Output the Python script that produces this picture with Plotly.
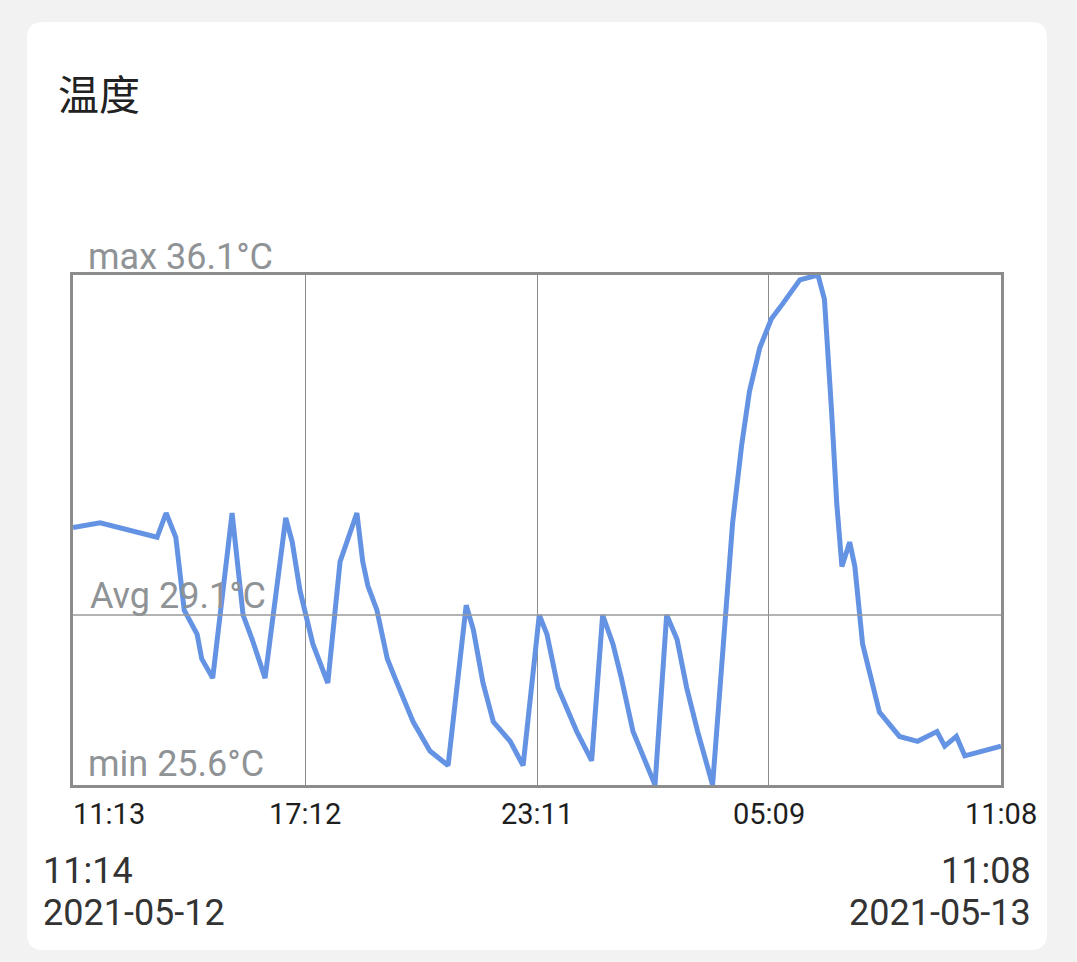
import plotly.graph_objects as go

title_text = "温度"
times = ["2021-05-12 11:13","2021-05-12 11:55","2021-05-12 13:23","2021-05-12 13:37","2021-05-12 13:52",
         "2021-05-12 14:05","2021-05-12 14:25","2021-05-12 14:32","2021-05-12 14:49","2021-05-12 15:19",
         "2021-05-12 15:36","2021-05-12 15:50","2021-05-12 16:10","2021-05-12 16:42","2021-05-12 16:52",
         "2021-05-12 17:04","2021-05-12 17:24","2021-05-12 17:47","2021-05-12 18:06","2021-05-12 18:17",
         "2021-05-12 18:32","2021-05-12 18:41","2021-05-12 18:49","2021-05-12 19:03","2021-05-12 19:19",
         "2021-05-12 19:31","2021-05-12 19:59","2021-05-12 20:25","2021-05-12 20:53","2021-05-12 21:21",
         "2021-05-12 21:32","2021-05-12 21:47","2021-05-12 22:03","2021-05-12 22:29","2021-05-12 22:49",
         "2021-05-12 23:14","2021-05-12 23:26","2021-05-12 23:43","2021-05-13 00:12","2021-05-13 00:35",
         "2021-05-13 00:52","2021-05-13 01:08","2021-05-13 01:21","2021-05-13 01:39","2021-05-13 02:13",
         "2021-05-13 02:31","2021-05-13 02:47","2021-05-13 03:02","2021-05-13 03:19","2021-05-13 03:42",
         "2021-05-13 04:01","2021-05-13 04:13","2021-05-13 04:27","2021-05-13 04:39","2021-05-13 04:55",
         "2021-05-13 05:13","2021-05-13 05:30","2021-05-13 05:57","2021-05-13 06:25","2021-05-13 06:35",
         "2021-05-13 06:46","2021-05-13 06:54","2021-05-13 07:02","2021-05-13 07:14","2021-05-13 07:22",
         "2021-05-13 07:34","2021-05-13 08:00","2021-05-13 08:31","2021-05-13 08:59","2021-05-13 09:29",
         "2021-05-13 09:41","2021-05-13 09:59","2021-05-13 10:12","2021-05-13 11:08"]
temps = [30.9, 31.0, 30.7, 31.2, 30.7,
         29.2, 28.7, 28.2, 27.8, 31.2,
         29.1, 28.6, 27.8, 31.1, 30.6,
         29.6, 28.5, 27.7, 30.2, 30.6,
         31.2, 30.2, 29.7, 29.2, 28.2,
         27.8, 26.9, 26.3, 26.0, 29.3,
         28.8, 27.7, 26.9, 26.5, 26.0,
         29.1, 28.7, 27.6, 26.7, 26.1,
         29.1, 28.5, 27.8, 26.7, 25.6,
         29.1, 28.6, 27.6, 26.7, 25.6,
         29.1, 31.0, 32.6, 33.7, 34.6,
         35.2, 35.5, 36.0, 36.1, 35.6,
         33.3, 31.4, 30.1, 30.6, 30.1,
         28.5, 27.1, 26.6, 26.5, 26.7,
         26.4, 26.6, 26.2, 26.4]
tick_times = ["2021-05-12 11:13", "2021-05-12 17:12", "2021-05-12 23:11", "2021-05-13 05:09", "2021-05-13 11:08"]
tick_labels = ["11:13", "17:12", "23:11", "05:09", "11:08"]
t_max, t_avg, t_min = 36.1, 29.1, 25.6
start_time, start_date = "11:14", "2021-05-12"
end_time, end_date = "11:08", "2021-05-13"

W, H = 1077, 962
L, R, T, B = 73, 1001, 275, 785


def px(x):
    return (x - L) / (R - L)


def py(y):
    return (B - y) / (B - T)


def rounded_rect(x0, y0, x1, y1, r):
    rx = r / (R - L)
    ry = r / (B - T)
    X0, X1 = px(x0), px(x1)
    Y0, Y1 = py(y1), py(y0)
    return (f"M {X0+rx},{Y0} L {X1-rx},{Y0} Q {X1},{Y0} {X1},{Y0+ry} "
            f"L {X1},{Y1-ry} Q {X1},{Y1} {X1-rx},{Y1} "
            f"L {X0+rx},{Y1} Q {X0},{Y1} {X0},{Y1-ry} "
            f"L {X0},{Y0+ry} Q {X0},{Y0} {X0+rx},{Y0} Z")


fig = go.Figure()
fig.add_trace(go.Scatter(x=times, y=temps, mode="lines",
                         line=dict(color="#6593e4", width=5), hoverinfo="skip"))

shapes = [
    dict(type="path", xref="paper", yref="paper", layer="below",
         path=rounded_rect(27, 22, 1047, 950, 16), fillcolor="white", line=dict(width=0)),
    dict(type="line", xref="paper", yref="y", x0=0, x1=1, y0=t_avg, y1=t_avg,
         line=dict(color="#9a9a9a", width=1.5)),
]

grey = "#8f9396"
lab_font = dict(family="Roboto", size=36, color=grey)
annotations = [
    dict(text=title_text, xref="paper", yref="paper", x=px(56), y=py(92),
         xanchor="left", yanchor="middle", showarrow=False,
         font=dict(family="Noto Sans CJK SC", size=41, color="#222222")),
    dict(text=f"max {t_max}°C", xref="paper", yref="paper", x=px(86), y=py(257),
         xanchor="left", yanchor="middle", showarrow=False, font=lab_font),
    dict(text=f"Avg {t_avg}°C", xref="paper", yref="paper", x=px(88), y=py(596),
         xanchor="left", yanchor="middle", showarrow=False, font=lab_font),
    dict(text=f"min {t_min}°C", xref="paper", yref="paper", x=px(86), y=py(764),
         xanchor="left", yanchor="middle", showarrow=False, font=lab_font),
]
tick_font = dict(family="Roboto", size=29, color="#1e1e1e")
for i, (tv, tl) in enumerate(zip(tick_times, tick_labels)):
    annotations.append(dict(text=tl, xref="x", yref="paper", x=tv, y=py(814),
                            xanchor="left" if i == 0 else "center", yanchor="middle",
                            xshift=-2 if i == 0 else 0,
                            showarrow=False, font=tick_font))

foot_font = dict(family="Roboto", size=36, color="#333333")
annotations += [
    dict(text=start_time, xref="paper", yref="paper", x=px(41), y=py(871),
         xanchor="left", yanchor="middle", showarrow=False, font=foot_font),
    dict(text=start_date, xref="paper", yref="paper", x=px(41), y=py(913),
         xanchor="left", yanchor="middle", showarrow=False, font=foot_font),
    dict(text=end_time, xref="paper", yref="paper", x=px(1033), y=py(871),
         xanchor="right", yanchor="middle", showarrow=False, font=foot_font),
    dict(text=end_date, xref="paper", yref="paper", x=px(1033), y=py(913),
         xanchor="right", yanchor="middle", showarrow=False, font=foot_font),
]

fig.update_layout(
    width=W, height=H,
    margin=dict(l=L, r=W - R, t=T, b=H - B, pad=0),
    paper_bgcolor="#f2f2f2", plot_bgcolor="rgba(0,0,0,0)",
    showlegend=False,
    shapes=shapes, annotations=annotations,
    xaxis=dict(type="date", range=[tick_times[0], tick_times[-1]], tickvals=tick_times,
               showticklabels=False, ticks="", showgrid=True, gridcolor="#8c8c8c", gridwidth=1,
               showline=True, mirror=True, linecolor="#8c8c8c", linewidth=2.5, zeroline=False,
               fixedrange=True),
    yaxis=dict(range=[t_min, t_max], showticklabels=False, ticks="", showgrid=False,
               showline=True, mirror=True, linecolor="#8c8c8c", linewidth=2.5, zeroline=False,
               fixedrange=True),
)

fig.write_html("out.html", config={"displayModeBar": False})
